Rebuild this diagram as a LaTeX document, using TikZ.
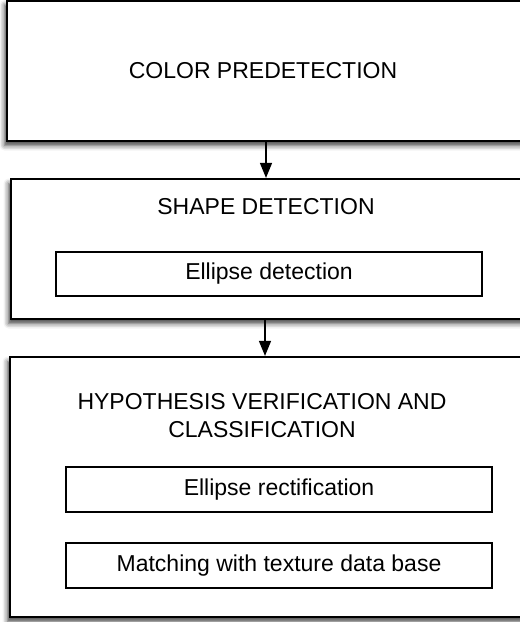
\documentclass[tikz,border=0pt]{standalone}
\usepackage{fontspec}
\setmainfont{Liberation Sans}
\usetikzlibrary{shadows.blur,arrows.meta}
\begin{document}
\begin{tikzpicture}[x=1pt,y=1pt,
  outerbox/.style={draw=black, line width=2.2pt, fill=white, rectangle, inner sep=0pt,
    blur shadow={shadow xshift=-2.5pt, shadow yshift=-4.5pt, shadow blur radius=5pt, shadow opacity=75}},
  innerbox/.style={draw=black, line width=1.8pt, fill=white, rectangle, inner sep=0pt},
  lbl/.style={font=\fontsize{23}{28}\selectfont, inner sep=0pt, align=center},
  conn/.style={line width=1.4pt, -{Triangle[length=15pt,width=12pt]}}
]
\useasboundingbox (0,0) rectangle (520,-622);
% outer boxes
\node[outerbox, minimum width=533pt, minimum height=140.5pt] (b1) at (273.5,-70.75) {};
\node[outerbox, minimum width=529pt, minimum height=140pt] (b2) at (275.5,-249) {};
\node[outerbox, minimum width=530pt, minimum height=260pt] (b3) at (275,-487) {};
% inner boxes
\node[innerbox, minimum width=426pt, minimum height=44pt] (i1) at (269,-274) {};
\node[innerbox, minimum width=426pt, minimum height=45pt] (i2) at (279,-489.5) {};
\node[innerbox, minimum width=426pt, minimum height=45pt] (i3) at (279,-565.5) {};
% labels
\node[lbl] (t1) at (263,-70.5) {COLOR PREDETECTION};
\node[lbl] (t2) at (266,-206.5) {SHAPE DETECTION};
\node[lbl] (t3) at (262,-416) {HYPOTHESIS VERIFICATION AND\\CLASSIFICATION};
\node[lbl] (l1) at (i1) {Ellipse detection};
\node[lbl] (l2) at (i2) {Ellipse rectification};
\node[lbl] (l3) at (i3) {Matching with texture data base};
% connectors
\coordinate (a1) at (266,0);
\coordinate (a2) at (265,0);
\draw[conn] (b1.south -| a1) -- (b2.north -| a1);
\draw[conn] (b2.south -| a2) -- (b3.north -| a2);
\end{tikzpicture}
\end{document}
